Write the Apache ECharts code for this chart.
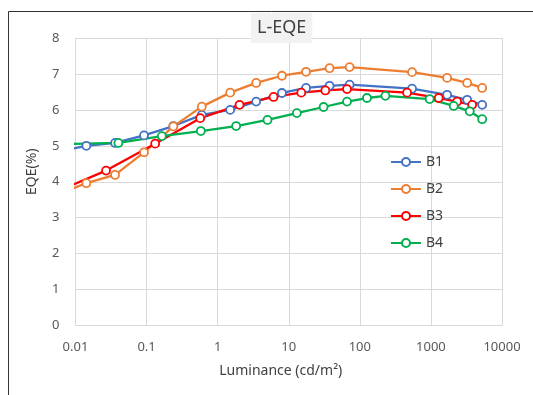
<!DOCTYPE html>
<html>
<head>
<meta charset="utf-8">
<script src="https://cdn.jsdelivr.net/npm/echarts@6/dist/echarts.min.js"></script>
<style>
  html, body { margin: 0; padding: 0; background: #fff; }
  #chart { width: 533px; height: 395px; }
</style>
</head>
<body>
<div id="chart"></div>
<script>
// luminance (cd/m2) of B1 / B2 points, first one lies just left of the axis
var lumB12 = [0.008, 0.0142, 0.036, 0.092, 0.238, 0.598, 1.5, 3.48, 8.02, 17.5, 37.5, 71.8, 543, 1690, 3235, 5263];
var eqeB1 = [4.90, 5.00, 5.08, 5.29, 5.55, 5.86, 6.00, 6.23, 6.47, 6.61, 6.67, 6.70, 6.59, 6.42, 6.28, 6.14];
var eqeB2 = [3.77, 3.96, 4.19, 4.82, 5.54, 6.09, 6.48, 6.75, 6.95, 7.06, 7.16, 7.19, 7.05, 6.89, 6.75, 6.61];
// B3
var lumB3 = [0.008, 0.0269, 0.132, 0.568, 2.03, 6.11, 15.0, 32.7, 66.0, 462, 1288, 2339, 3802];
var eqeB3 = [3.87, 4.31, 5.06, 5.77, 6.14, 6.36, 6.48, 6.54, 6.58, 6.48, 6.33, 6.23, 6.14];
// B4
var lumB4 = [0.008, 0.0401, 0.164, 0.580, 1.82, 5.02, 13.0, 30.9, 66.0, 126, 229, 961, 2094, 3516, 5263];
var eqeB4 = [5.05, 5.08, 5.27, 5.41, 5.55, 5.72, 5.91, 6.08, 6.23, 6.33, 6.39, 6.30, 6.11, 5.96, 5.74];

var names = ['B1', 'B2', 'B3', 'B4'];
var colors = ['#4472C4', '#ED7D31', '#FF0000', '#00B050'];
var xs = [lumB12, lumB12, lumB3, lumB4];
var ys = [eqeB1, eqeB2, eqeB3, eqeB4];

var font = '"Noto Sans", "Open Sans", sans-serif';
var chart = echarts.init(document.getElementById('chart'));

var series = [];
for (var k = 0; k < names.length; k++) {
    var pts = [];
    for (var j = 0; j < xs[k].length; j++) {
        pts.push([xs[k][j], ys[k][j]]);
    }
    series.push({
        name: names[k],
        type: 'line',
        data: pts,
        clip: true,
        symbol: 'circle',
        symbolSize: 8,
        lineStyle: { color: colors[k], width: 2.3 },
        itemStyle: { color: '#fff', borderColor: colors[k], borderWidth: 1.8 },
        emphasis: { disabled: true }
    });
}

chart.setOption({
    animation: false,
    backgroundColor: '#fff',
    textStyle: { fontFamily: font },
    graphic: [{
        type: 'rect',
        shape: { x: 8.5, y: 11.5, width: 700, height: 500 },
        style: { fill: 'none', stroke: '#333', lineWidth: 1 },
        z: -10
    }],
    title: {
        text: 'L-EQE',
        left: 251,
        top: 13,
        padding: [6, 6, 6, 6],
        backgroundColor: '#f2f2f2',
        textStyle: { fontSize: 18, fontWeight: 'normal', color: '#404040', fontFamily: font }
    },
    legend: {
        orient: 'vertical',
        left: 385,
        top: 150,
        itemWidth: 30,
        itemHeight: 10,
        itemGap: 13,
        textStyle: { fontSize: 14, color: '#404040', fontFamily: font },
        data: names
    },
    grid: { left: 75.5, right: 31, top: 38, bottom: 69.5 },
    xAxis: {
        type: 'log',
        logBase: 10,
        min: 0.01,
        max: 10000,
        name: 'Luminance (cd/m²)',
        nameLocation: 'middle',
        nameGap: 39,
        nameTextStyle: { fontSize: 14, color: '#404040', padding: [0, 16, 0, 0] },
        axisLine: { show: false },
        axisTick: { show: false },
        axisLabel: {
            fontSize: 13, color: '#595959', margin: 15,
            formatter: function (v) { return String(+v.toPrecision(3)); }
        },
        splitLine: { show: true, lineStyle: { color: '#d9d9d9', width: 1 } }
    },
    yAxis: {
        type: 'value',
        min: 0,
        max: 8,
        interval: 1,
        name: 'EQE(%)',
        nameLocation: 'middle',
        nameGap: 36,
        nameTextStyle: { fontSize: 14, color: '#404040', padding: [0, 0, 0, 20] },
        axisLine: { show: false },
        axisTick: { show: false },
        axisLabel: { fontSize: 13, color: '#595959', margin: 16 },
        splitLine: { show: true, lineStyle: { color: '#d9d9d9', width: 1 } }
    },
    series: series
});
</script>
</body>
</html>
